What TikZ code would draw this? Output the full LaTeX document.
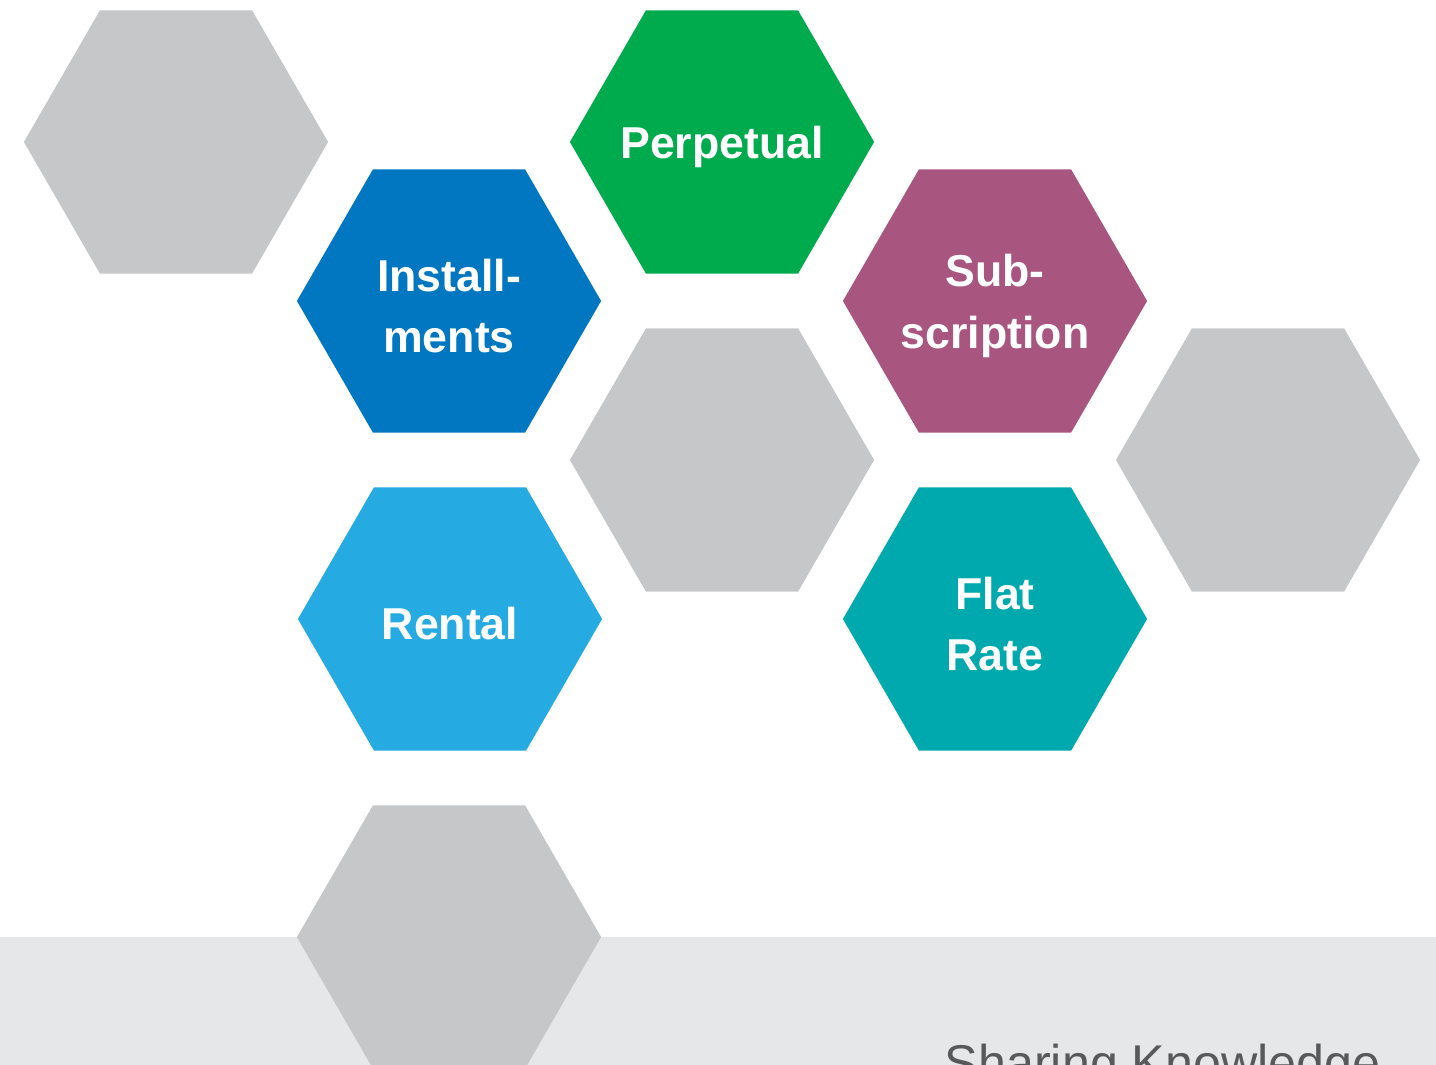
\documentclass[tikz,border=0pt]{standalone}
\usepackage{fontspec}
\setmainfont{Liberation Sans}
\usetikzlibrary{shapes.geometric}
\usepackage{xcolor}

\definecolor{hexgrey}{HTML}{C6C7C9}
\definecolor{bandgrey}{HTML}{E6E7E9}
\definecolor{hexgreen}{HTML}{00AB4E}
\definecolor{hexblue}{HTML}{0077C0}
\definecolor{hexsky}{HTML}{25ABE2}
\definecolor{hexplum}{HTML}{A8557F}
\definecolor{hexteal}{HTML}{00A9AE}
\definecolor{footgrey}{HTML}{58595B}

\tikzset{hexa/.style={regular polygon, regular polygon sides=6, minimum size=3.04cm,
  inner sep=0pt, outer sep=0pt, draw=none},
  hextext/.style={text=white, align=center, inner sep=0pt, yshift=-0.05cm,
  font=\fontsize{12.7}{17.4}\selectfont\bfseries}}

\begin{document}
\begin{tikzpicture}[x=0.01cm, y=-0.01cm]
\useasboundingbox (0,0) rectangle (1436,1065);
\clip (0,0) rectangle (1436,1065);

%band
\fill[bandgrey] (0,937) rectangle (1436,1065);

%grey ones
\node (greyA) at (176,142) [hexa, fill=hexgrey] {};
\node (greyB) at (722,460) [hexa, fill=hexgrey] {};
\node (greyC) at (1268,460) [hexa, fill=hexgrey] {};
\node (greyD) at (449,937) [hexa, fill=hexgrey] {};

%coloured ones
\node (perpetual) at (722,142) [hexa, fill=hexgreen] {};
\node (install) at (449,301) [hexa, fill=hexblue] {};
\node (subscr) at (995,301) [hexa, fill=hexplum] {};
\node (rental) at (450,619) [hexa, fill=hexsky] {};
\node (flatrate) at (995,619) [hexa, fill=hexteal] {};

%texts
\node (perpetualtxt) at (perpetual) [hextext] {Perpetual};
\node (installtxt) at (install) [hextext] {Install-\\ments};
\node (subscrtxt) at (subscr) [hextext] {Sub-\\scription};
\node (rentaltxt) at (rental) [hextext] {Rental};
\node (flatratetxt) at (flatrate) [hextext] {Flat\\Rate};

\node (footer) at (944,1081) [anchor=base west, inner sep=0pt, text=footgrey,
  font=\fontsize{14.3}{17}\selectfont] {Sharing Knowledge};

\end{tikzpicture}
\end{document}
